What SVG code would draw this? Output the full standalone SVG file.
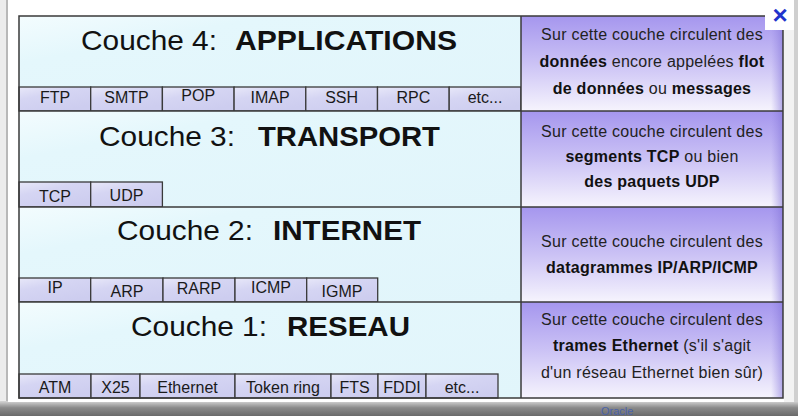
<svg xmlns="http://www.w3.org/2000/svg" width="798" height="416" viewBox="0 0 798 416">
<defs>
<linearGradient id="gCyan" x1="0" y1="0" x2="1" y2="1">
<stop offset="0" stop-color="#f3fcfe"/>
<stop offset="0.25" stop-color="#e4f7fc"/>
<stop offset="1" stop-color="#e1f5fb"/>
</linearGradient>
<linearGradient id="gCell" x1="0" y1="0" x2="0.6" y2="1">
<stop offset="0" stop-color="#e8e8f9"/>
<stop offset="0.4" stop-color="#d5d5f3"/>
<stop offset="1" stop-color="#cdcdef"/>
</linearGradient>
<linearGradient id="gPurple" x1="0" y1="0" x2="0" y2="1">
<stop offset="0" stop-color="#a596ee"/>
<stop offset="0.5" stop-color="#cbc2f5"/>
<stop offset="1" stop-color="#f6f4fd"/>
</linearGradient>
<linearGradient id="gEdge" x1="0" y1="0" x2="1" y2="0">
<stop offset="0" stop-color="#8e7fe0" stop-opacity="0"/>
<stop offset="1" stop-color="#7e6fd6" stop-opacity="0.55"/>
</linearGradient>
<linearGradient id="gShadow" x1="0" y1="0" x2="0" y2="1">
<stop offset="0" stop-color="#d6d6d6"/>
<stop offset="0.45" stop-color="#8a8a8a"/>
<stop offset="1" stop-color="#6a6a6a"/>
</linearGradient>
</defs>
<style>
.ln{stroke:#3a3a3a;stroke-width:1.5;fill:none}
.cell{fill:url(#gCell);stroke:#3a3a3a;stroke-width:1.3}
.area{fill:url(#gCyan)}
.desc{fill:url(#gPurple)}
.edge{fill:url(#gEdge)}
.t{font-family:"Liberation Sans",Arial,sans-serif;fill:#111}
.tr{font-size:28px}
.tb{font-size:28px;font-weight:bold}
.p{font-size:16px;text-anchor:middle;fill:#1a1a1a}
.d{font-size:16px;text-anchor:middle;letter-spacing:0.25px;fill:#222}
.b{font-weight:bold;fill:#111}
</style>
<!-- page behind -->
<rect x="0" y="0" width="798" height="416" fill="#cfcfcf"/>
<rect x="0" y="0" width="8" height="402" fill="#ececec"/>
<rect x="6" y="0" width="2" height="402" fill="#b8b8b8"/>
<rect x="0" y="401" width="798" height="15" fill="url(#gShadow)"/>
<text x="601" y="415" font-family="Liberation Sans,Arial,sans-serif" font-size="11" fill="#4a62a8">Oracle</text>
<!-- popup -->
<rect x="8" y="0" width="786" height="402" fill="#ffffff"/>
<rect x="784" y="30" width="10" height="372" fill="#f2f2f2"/>

<!-- Layer 4 -->
<g id="couche4">
<rect class="area" x="19" y="16" width="502" height="95"/>
<text class="t tr" x="81" y="50" textLength="136" lengthAdjust="spacingAndGlyphs">Couche 4:</text>
<text class="t tb" x="235" y="50" textLength="222" lengthAdjust="spacingAndGlyphs">APPLICATIONS</text>
<g id="c4-ftp"><rect class="cell" x="19" y="87" width="71.7" height="24"/><text class="t p" x="55" y="103">FTP</text></g>
<g id="c4-smtp"><rect class="cell" x="90.7" y="87" width="71.7" height="24"/><text class="t p" x="126.5" y="103">SMTP</text></g>
<g id="c4-pop"><rect class="cell" x="162.4" y="87" width="71.7" height="24"/><text class="t p" x="198.2" y="101">POP</text></g>
<g id="c4-imap"><rect class="cell" x="234.1" y="87" width="71.7" height="24"/><text class="t p" x="270" y="103">IMAP</text></g>
<g id="c4-ssh"><rect class="cell" x="305.8" y="87" width="71.7" height="24"/><text class="t p" x="341.6" y="103">SSH</text></g>
<g id="c4-rpc"><rect class="cell" x="377.5" y="87" width="71.7" height="24"/><text class="t p" x="413.3" y="103">RPC</text></g>
<g id="c4-etc"><rect class="cell" x="449.2" y="87" width="71.8" height="24"/><text class="t p" x="485" y="103">etc...</text></g>
</g>
<g id="desc4">
<rect class="desc" x="521" y="16" width="262" height="95"/>
<rect class="edge" x="771" y="16" width="12" height="95"/>
<text class="t d" x="652" y="40">Sur cette couche circulent des</text>
<text class="t d" x="652" y="67"><tspan class="b">données</tspan> encore appelées <tspan class="b">flot</tspan></text>
<text class="t d" x="652" y="94"><tspan class="b">de données</tspan> ou <tspan class="b">messages</tspan></text>
</g>

<!-- Layer 3 -->
<g id="couche3">
<rect class="area" x="19" y="111" width="502" height="96"/>
<text class="t tr" x="99" y="146" textLength="136" lengthAdjust="spacingAndGlyphs">Couche 3:</text>
<text class="t tb" x="258" y="146" textLength="182" lengthAdjust="spacingAndGlyphs">TRANSPORT</text>
<g id="c3-tcp"><rect class="cell" x="19" y="182" width="71.7" height="25"/><text class="t p" x="55" y="202">TCP</text></g>
<g id="c3-udp"><rect class="cell" x="90.7" y="182" width="71.7" height="25"/><text class="t p" x="126.5" y="201">UDP</text></g>
</g>
<g id="desc3">
<rect class="desc" x="521" y="111" width="262" height="96"/>
<rect class="edge" x="771" y="111" width="12" height="96"/>
<text class="t d" x="652" y="137">Sur cette couche circulent des</text>
<text class="t d" x="652" y="162"><tspan class="b">segments TCP</tspan> ou bien</text>
<text class="t d" x="652" y="187"><tspan class="b">des paquets UDP</tspan></text>
</g>

<!-- Layer 2 -->
<g id="couche2">
<rect class="area" x="19" y="207" width="502" height="95"/>
<text class="t tr" x="117" y="240" textLength="136" lengthAdjust="spacingAndGlyphs">Couche 2:</text>
<text class="t tb" x="273" y="240" textLength="148" lengthAdjust="spacingAndGlyphs">INTERNET</text>
<g id="c2-ip"><rect class="cell" x="19" y="278" width="71.7" height="24"/><text class="t p" x="55" y="293">IP</text></g>
<g id="c2-arp"><rect class="cell" x="90.7" y="278" width="72.3" height="24"/><text class="t p" x="127" y="297">ARP</text></g>
<g id="c2-rarp"><rect class="cell" x="163" y="278" width="72" height="24"/><text class="t p" x="199" y="294">RARP</text></g>
<g id="c2-icmp"><rect class="cell" x="235" y="278" width="71.7" height="24"/><text class="t p" x="271" y="293">ICMP</text></g>
<g id="c2-igmp"><rect class="cell" x="306.7" y="278" width="71" height="24"/><text class="t p" x="342" y="297">IGMP</text></g>
</g>
<g id="desc2">
<rect class="desc" x="521" y="207" width="262" height="95"/>
<rect class="edge" x="771" y="207" width="12" height="95"/>
<text class="t d" x="652" y="247">Sur cette couche circulent des</text>
<text class="t d" x="652" y="273"><tspan class="b">datagrammes IP/ARP/ICMP</tspan></text>
</g>

<!-- Layer 1 -->
<g id="couche1">
<rect class="area" x="19" y="302" width="502" height="96"/>
<text class="t tr" x="131" y="336" textLength="136" lengthAdjust="spacingAndGlyphs">Couche 1:</text>
<text class="t tb" x="287" y="336" textLength="123" lengthAdjust="spacingAndGlyphs">RESEAU</text>
<g id="c1-atm"><rect class="cell" x="19" y="374" width="72" height="24"/><text class="t p" x="55" y="393">ATM</text></g>
<g id="c1-x25"><rect class="cell" x="91" y="374" width="49" height="24"/><text class="t p" x="115.5" y="393">X25</text></g>
<g id="c1-ethernet"><rect class="cell" x="140" y="374" width="95" height="24"/><text class="t p" x="187.5" y="393">Ethernet</text></g>
<g id="c1-tokenring"><rect class="cell" x="235" y="374" width="96" height="24"/><text class="t p" x="283" y="393">Token ring</text></g>
<g id="c1-fts"><rect class="cell" x="331" y="374" width="47" height="24"/><text class="t p" x="354.5" y="393">FTS</text></g>
<g id="c1-fddi"><rect class="cell" x="378" y="374" width="48" height="24"/><text class="t p" x="402" y="393">FDDI</text></g>
<g id="c1-etc"><rect class="cell" x="426" y="374" width="72" height="24"/><text class="t p" x="462" y="393">etc...</text></g>
</g>
<g id="desc1">
<rect class="desc" x="521" y="302" width="262" height="96"/>
<rect class="edge" x="771" y="302" width="12" height="96"/>
<text class="t d" x="652" y="325">Sur cette couche circulent des</text>
<text class="t d" x="652" y="351"><tspan class="b">trames Ethernet</tspan> (s'il s'agit</text>
<text class="t d" x="652" y="378">d'un réseau Ethernet bien sûr)</text>
</g>

<!-- frame lines -->
<g id="connectors">
<rect class="ln" x="19" y="16" width="764" height="382"/>
<line class="ln" x1="521" y1="16" x2="521" y2="398"/>
<line class="ln" x1="19" y1="111" x2="783" y2="111"/>
<line class="ln" x1="19" y1="207" x2="783" y2="207"/>
<line class="ln" x1="19" y1="302" x2="783" y2="302"/>
</g>

<g id="close">
<rect x="765" y="0" width="29" height="30" fill="#ffffff"/>
<text x="780" y="24" font-family="Liberation Sans,Arial,sans-serif" font-size="26" font-weight="bold" fill="#2233cc" text-anchor="middle">×</text>
</g>
</svg>
